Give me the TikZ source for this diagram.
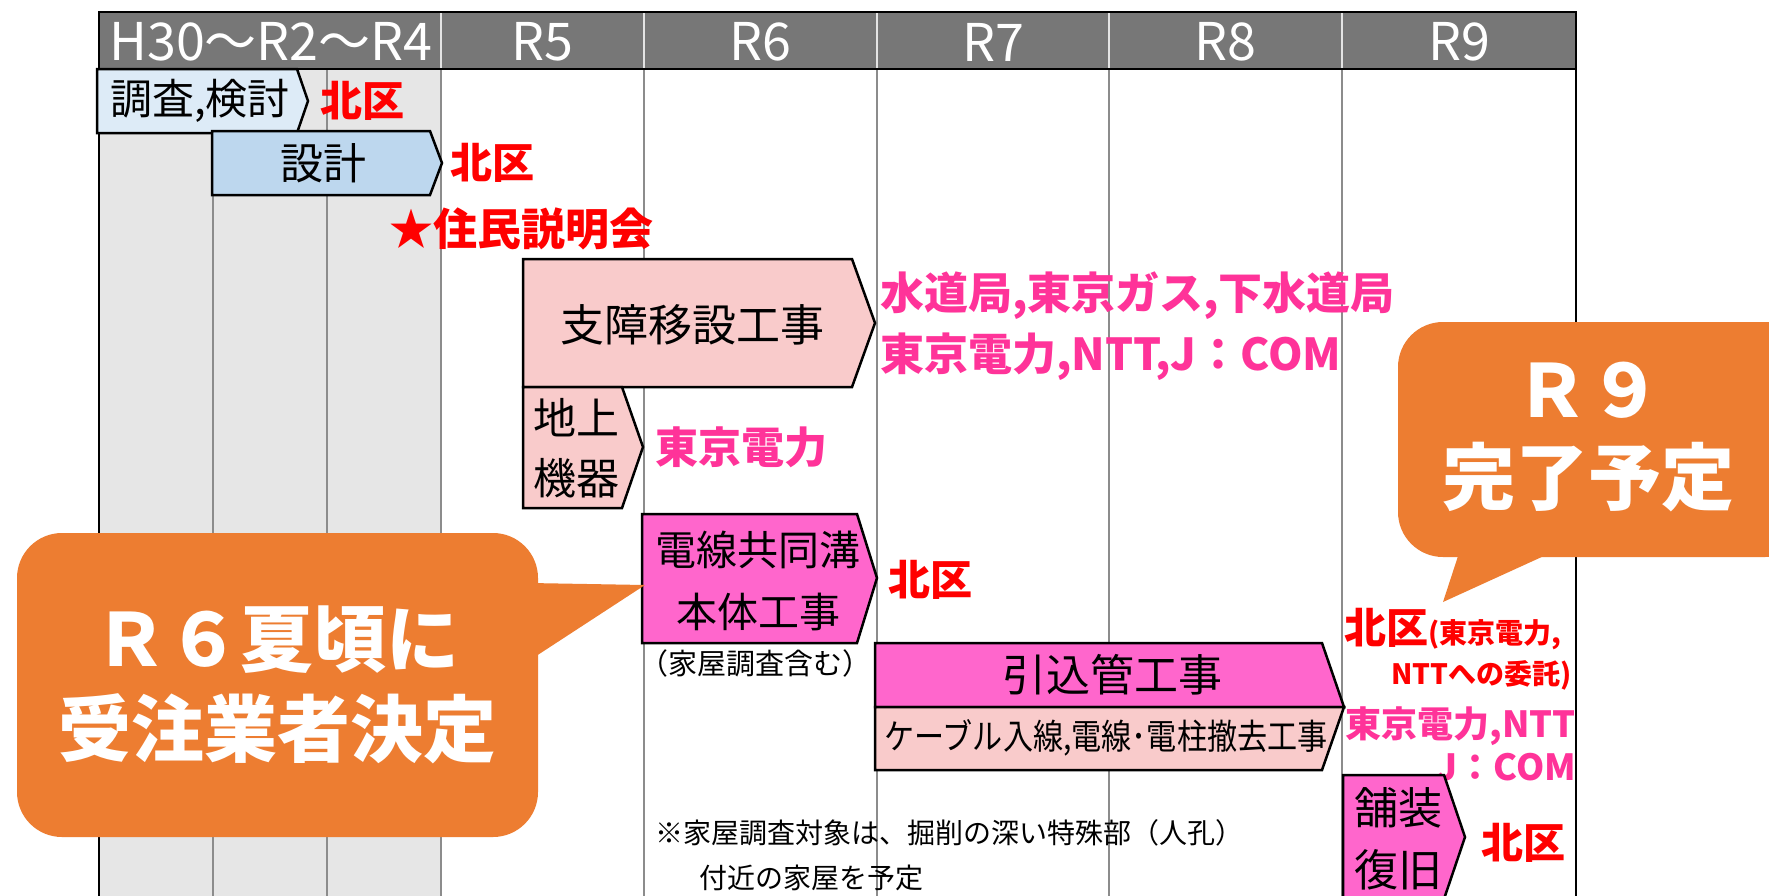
\documentclass[tikz,border=0pt]{standalone}
\usepackage{fontspec}
\setmainfont{Noto Sans CJK JP}
\usepackage{graphicx}
\definecolor{hdr}{HTML}{777777}
\definecolor{graybg}{HTML}{E6E6E6}
\definecolor{gridc}{HTML}{8C8C8C}
\definecolor{blueA}{HTML}{DDEBF7}
\definecolor{blueB}{HTML}{BDD7EE}
\definecolor{pinkf}{HTML}{F9CBCB}
\definecolor{magf}{HTML}{FF66CC}
\definecolor{redt}{HTML}{FF0000}
\definecolor{pinkt}{HTML}{FF3399}
\definecolor{orng}{HTML}{ED7D31}
\newcommand\fsz[2]{\fontsize{#1pt}{#2pt}\selectfont}
\begin{document}
\begin{tikzpicture}[x=1pt,y=-1pt,
  bar/.style={draw=black,line width=2.5pt,line join=miter},
  lbl/.style={inner sep=0pt,outer sep=0pt},
  hdrtxt/.style={lbl,text=white,font=\fsz{52}{52}},
  blk/.style={lbl,text=black},
  redlbl/.style={lbl,text=redt,font=\fsz{42}{42}\bfseries},
  pinklbl/.style={lbl,text=pinkt,font=\bfseries},
  callout/.style={fill=orng,draw=none},
  calltxt/.style={lbl,text=white,align=center,font=\bfseries}
]
\useasboundingbox (0,0) rectangle (1769,895);
\fill[white] (0,0) rectangle (1769,895);
% ---- table ----
\fill[graybg] (99,69) rectangle (441,900);
\fill[hdr] (99,12) rectangle (1576,69);
\foreach \x in {213,327,441,644,877,1109,1342}
  \draw[gridc,line width=1.2pt] (\x,69) -- (\x,900);
\foreach \x in {441,644,877,1109,1342}
  \draw[white!80!hdr,line width=1.5pt] (\x,12) -- (\x,69);
\draw[line width=2.5pt] (99,900) -- (99,12) -- (1576,12) -- (1576,900);
\draw[line width=2.5pt] (99,69) -- (1576,69);
\node[hdrtxt] (hA) at (271,42) {H30～R2～R4};
\node[hdrtxt] (h5) at (542,42) {R5};
\node[hdrtxt] (h6) at (760,42) {R6};
\node[hdrtxt] (h7) at (993,42) {R7};
\node[hdrtxt] (h8) at (1225,42) {R8};
\node[hdrtxt] (h9) at (1459,42) {R9};
% ---- bars ----
\filldraw[bar,fill=blueA] (97,69) -- (297,69) -- (308,101) -- (297,133) -- (97,133) -- cycle;
\node[blk,font=\fsz{42}{42}] (b1) at (200,101) {調査,検討};
\node[redlbl] (b1r) at (362,101) {北区};

\filldraw[bar,fill=blueB] (212,131) -- (430,131) -- (442,163) -- (430,195) -- (212,195) -- cycle;
\node[blk,font=\fsz{43}{43}] (b2) at (323,163) {設計};
\node[redlbl] (b2r) at (492,163) {北区};

\node[lbl,anchor=west,text=redt,font=\fsz{44}{44}\bfseries] (mtg) at (389,229) {★住民説明会};

\filldraw[bar,fill=pinkf] (523,259) -- (852,259) -- (875,323) -- (852,387) -- (523,387) -- cycle;
\node[blk,font=\fsz{44}{44}] (b3) at (692,325) {支障移設工事};
\node[pinklbl,anchor=west,align=left,font=\fsz{44}{61}\bfseries] (b3p) at (880,326) {水道局,東京ガス,下水道局\\東京電力,NTT,J：COM};

\filldraw[bar,fill=pinkf] (523,387) -- (622,387) -- (643,447) -- (622,508) -- (523,508) -- cycle;
\node[blk,align=center,font=\fsz{43}{60}] (b4) at (576,448) {地上\\機器};
\node[pinklbl,font=\fsz{43}{43}\bfseries] (b4p) at (741,447) {東京電力};

\filldraw[bar,fill=magf] (642,514) -- (857,514) -- (877,578) -- (857,643) -- (642,643) -- cycle;
\node[blk,align=center,font=\fsz{41}{62}] (b5) at (758,581) {電線共同溝\\本体工事};
\node[redlbl] (b5r) at (930,580) {北区};
\node[blk,font=\fsz{29}{29}] (b5n) at (755,663) {（家屋調査含む）};

\filldraw[bar,fill=magf] (875,643) -- (1322,643) -- (1344,707) -- (875,707) -- cycle;
\filldraw[bar,fill=pinkf] (875,707) -- (1344,707) -- (1322,770) -- (875,770) -- cycle;
\node[blk,font=\fsz{44}{44}] (b6) at (1112,675) {引込管工事};
\node[blk] (b6s) at (1106,738) {\scalebox{0.86}[1]{\fsz{35}{35}ケーブル入線,電線･電柱撤去工事}};

\node[lbl,anchor=base west,text=redt,font=\bfseries] (b6r) at (1344,643) {{\fsz{42}{42}北区}{\fsz{28}{28}(東京電力,}};
\node[lbl,anchor=base east,text=redt,font=\fsz{28}{28}\bfseries] (b6r2) at (1572,684) {NTTへの委託)};
\node[pinklbl,anchor=base east,font=\fsz{36}{36}\bfseries] (b6p) at (1576,737) {東京電力,NTT};
\node[pinklbl,anchor=base east,font=\fsz{36}{36}\bfseries] (b6p2) at (1576,780) {J：COM};

\filldraw[bar,fill=magf] (1343,775) -- (1444,775) -- (1465,837) -- (1444,899) -- (1343,899) -- cycle;
\node[blk,align=center,font=\fsz{44}{62}] (b7) at (1398,839) {舗装\\復旧};
\node[redlbl] (b7r) at (1523,843) {北区};

\node[blk,anchor=west,align=left,font=\fsz{28}{45}] (note) at (655,855) {※家屋調査対象は、掘削の深い特殊部（人孔）\\\hspace*{44pt}付近の家屋を予定};
% ---- callouts ----
\fill[callout] (530,583) -- (645,585) -- (530,660) -- cycle;
\fill[callout,rounded corners=45pt] (17,533) rectangle (538,837);
\node[calltxt,font=\fsz{73}{90}\bfseries] (c1) at (277,685) {Ｒ６夏頃に\\受注業者決定};

\fill[callout] (1460,550) -- (1557,550) -- (1443,602) -- cycle;
\fill[callout,rounded corners=45pt] (1398,322) rectangle (1810,557);
\node[calltxt,font=\fsz{73}{87}\bfseries] (c2) at (1588,437) {Ｒ９\\完了予定};
\end{tikzpicture}
\end{document}
